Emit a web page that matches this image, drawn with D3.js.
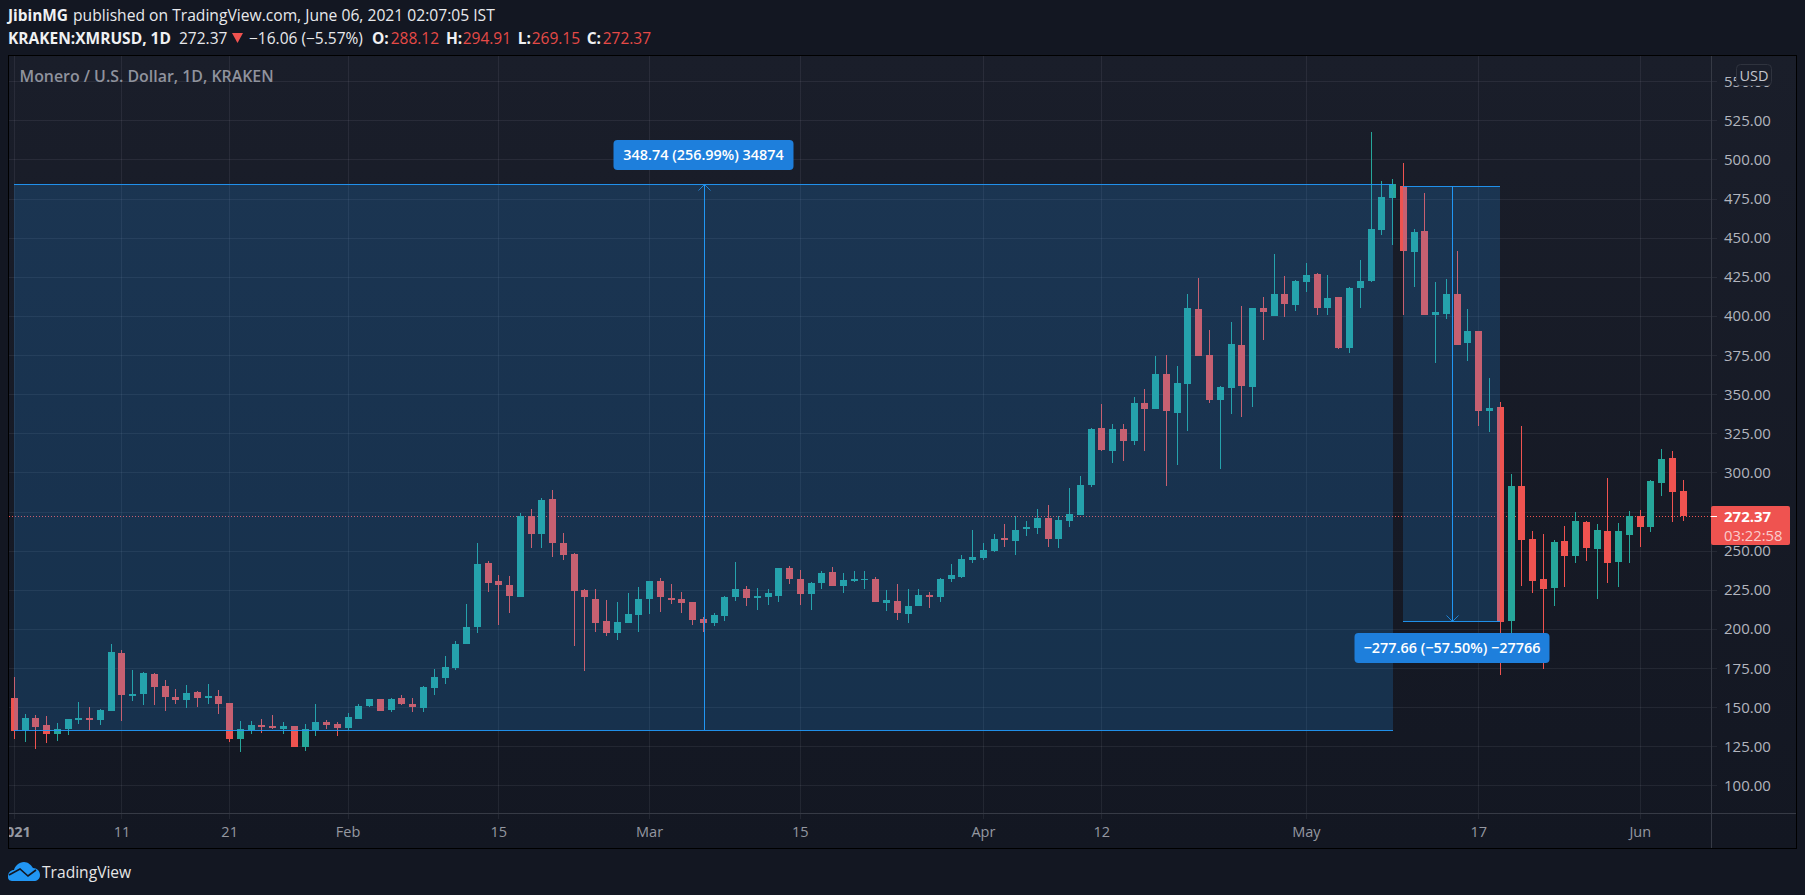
<!DOCTYPE html>
<html><head><meta charset="utf-8">
<script src="https://cdn.jsdelivr.net/npm/d3@7"></script>
<style>html,body{margin:0;padding:0;background:#131722;overflow:hidden}svg{display:block}text{font-family:"Open Sans",sans-serif}</style>
</head><body><svg id="c" width="1805" height="895"></svg>
<script>
const opens=[156.1,135.4,143.3,138.8,133.1,136.3,142.0,143.3,142.0,147.8,184.8,157.3,158.6,171.4,163.7,156.7,154.8,159.9,156.1,157.3,152.9,129.9,135.6,138.8,138.2,136.3,138.2,124.8,135.6,140.7,139.5,136.9,142.6,150.9,155.4,148.4,156.1,152.2,149.7,162.5,168.8,175.2,190.6,201.4,242.3,230.8,228.3,220.6,272.4,260.9,283.2,255.1,248.1,225.1,219.3,205.3,197.6,204.0,209.1,219.3,230.8,220.0,219.3,217.4,206.5,204.0,208.5,220.6,225.7,220.0,220.6,221.2,239.1,232.1,222.5,229.5,236.6,227.6,230.8,231.5,232.1,216.8,218.0,209.7,214.8,221.9,220.6,232.1,233.4,244.2,245.5,250.0,258.3,256.4,264.0,264.7,271.1,257.6,269.1,273.0,292.2,328.6,313.9,327.9,320.3,344.6,340.7,363.1,338.2,356.7,404.6,375.2,346.5,354.1,381.6,354.8,405.3,400.2,414.2,407.2,421.9,427.0,405.3,412.3,379.7,418.0,422.5,455.1,475.6,483.2,441.1,454.5,400.8,401.4,414.2,382.9,390.6,339.5,342.0,205.3,291.5,257.7,232.1,226.4,256.4,246.8,268.5,251.3,262.8,243.0,260.2,272.4,265.3,293.5,309.4,288.12];
const closes=[135.0,143.3,137.5,133.1,136.3,142.6,143.3,142.0,148.4,185.5,158.0,158.6,172.0,163.1,156.7,154.8,159.3,156.1,157.3,152.2,129.9,136.3,138.8,137.5,136.9,138.2,124.8,136.3,140.7,138.8,136.9,143.9,150.9,155.4,147.8,155.4,152.2,150.3,163.1,169.5,175.9,190.6,201.4,241.7,229.5,228.3,221.2,272.4,260.9,282.6,255.1,247.4,224.4,220.6,204.0,197.6,204.6,209.8,219.3,230.8,220.6,218.7,216.8,205.9,204.0,209.1,220.6,225.7,220.0,221.2,223.2,239.1,232.1,222.5,229.5,236.0,227.6,231.5,232.1,232.1,217.4,218.7,210.4,214.8,221.9,220.6,232.1,234.6,244.9,246.1,250.6,257.6,257.0,263.4,265.3,271.1,257.6,269.8,273.6,292.2,327.9,314.5,327.9,320.3,344.6,340.7,363.1,339.4,357.3,405.3,374.6,346.5,354.8,382.3,355.4,405.3,402.7,414.2,407.8,422.5,426.4,405.3,411.7,379.7,418.0,422.5,455.7,476.2,484.5,441.7,453.8,400.8,402.7,414.2,381.6,390.6,339.5,341.4,204.6,291.5,257.0,230.8,225.7,255.7,246.8,269.2,251.9,263.4,242.3,262.8,272.4,265.3,294.7,308.8,287.7,272.37];
const highs=[169.5,145.8,145.2,144.6,140.1,142.6,153.5,150.3,149.0,190.6,186.7,174.0,172.7,172.0,167.6,161.8,164.4,160.5,165.0,161.2,152.9,141.4,141.4,142.6,145.2,140.7,138.2,139.5,152.2,142.0,140.7,146.5,152.2,155.4,155.4,156.1,158.0,156.1,163.7,174.6,182.9,192.5,216.1,255.1,243.6,234.7,234.0,274.3,276.8,283.9,289.0,261.5,248.7,225.7,225.7,218.7,217.4,223.2,227.0,230.8,232.7,228.9,223.8,217.4,207.8,210.4,221.2,243.0,227.6,226.4,225.7,239.1,240.4,237.9,230.2,237.2,239.8,236.0,237.2,237.2,233.4,225.1,228.9,225.7,225.7,223.8,232.7,241.7,247.4,263.4,255.1,260.9,267.2,272.4,269.1,276.8,279.4,272.4,290.3,297.9,328.6,343.9,331.1,331.1,348.4,353.5,374.6,375.2,368.2,414.2,424.4,391.2,355.4,396.3,406.5,405.3,412.3,439.8,425.7,423.2,434.0,427.6,426.4,412.3,418.7,435.9,517.7,486.4,487.7,497.9,455.7,478.8,421.9,423.8,441.7,404.6,390.6,360.5,345.2,299.2,329.9,262.8,260.9,257.0,266.0,274.9,269.2,267.3,296.7,267.9,275.6,276.2,295.4,315.2,313.9,294.91];
const lows=[129.9,127.9,123.5,127.3,128.6,132.4,139.5,135.6,138.8,147.8,141.4,154.1,151.6,151.6,147.8,152.2,149.7,150.3,152.2,145.8,128.0,121.6,133.1,133.7,136.3,133.1,124.8,122.2,131.8,136.3,131.8,135.6,142.6,150.3,147.8,147.1,151.6,147.1,147.1,158.0,165.0,174.0,190.6,197.6,223.8,202.7,210.4,220.6,251.9,251.9,246.2,244.2,189.3,173.3,198.2,195.7,193.1,204.0,198.2,209.7,211.0,216.1,210.4,202.7,198.2,202.1,205.3,218.1,214.9,212.3,215.5,217.4,228.9,215.5,212.3,225.7,227.6,223.2,230.2,225.7,217.4,211.7,205.9,204.0,214.8,213.6,217.4,230.2,232.7,242.3,244.2,249.4,252.5,247.4,259.6,260.9,252.5,251.9,265.3,273.0,290.9,313.9,306.2,307.5,317.7,313.9,340.7,291.5,304.9,326.7,374.6,344.5,302.4,337.5,335.6,342.0,384.8,400.2,399.5,403.4,415.5,400.8,400.8,379.1,376.5,405.3,421.9,451.9,445.5,400.8,418.7,400.8,370.1,398.2,381.6,371.4,329.5,326.0,170.8,190,227.6,223.2,174.6,214.9,227.0,242.3,243.6,219.3,229.5,227.0,242.3,252.6,262.1,285.1,268.5,269.15];
const priceGrid=[100,125,150,175,200,225,250,275,300,325,350,375,400,425,450,475,500,525,550];
const priceLabels=[100,125,150,175,200,225,250,300,325,350,375,400,425,450,475,500,525,550];
const timeTickDays=[0,10,20,31,45,59,73,90,101,120,136,151];
const timeTickLabels=["2021","11","21","Feb","15","Mar","15","Apr","12","May","17","Jun"];
const longPosition={fromDay:0,toDay:128,base:135.3,target:484.04,label:"348.74 (256.99%) 34874"};
const shortPosition={fromDay:129,toDay:138,base:483,target:205.3,label:"\u2212277.66 (\u221257.50%) \u221227766"};
const lastPrice=272.37;

const UP="#26a69a",DOWN="#ef5350",BLUE="#2196f3";
const L=9,T=56,R=1711,B=813;
const x=d3.scaleLinear().domain([0,155]).range([14.3,1683.3]);
const y=d3.scaleLinear().domain([125,525]).range([746.3,120.3]);
const svg=d3.select("#c");
const defs=svg.append("defs");
const g0=defs.append("linearGradient").attr("id","bg").attr("x1",0).attr("x2",0).attr("y1",0).attr("y2",1);
g0.append("stop").attr("offset",0).attr("stop-color","#1a1e2a");
g0.append("stop").attr("offset",1).attr("stop-color","#131722");
defs.append("clipPath").attr("id","pane").append("rect").attr("x",L).attr("y",T).attr("width",R-L).attr("height",B-T);
defs.append("clipPath").attr("id","inner").append("rect").attr("x",L).attr("y",T).attr("width",1796-L).attr("height",848-T);

svg.append("rect").attr("width",1805).attr("height",895).attr("fill","#131722");
svg.append("rect").attr("x",8.5).attr("y",55.5).attr("width",1788).attr("height",793).attr("fill","url(#bg)").attr("stroke","#000");

const crisp=s=>s.attr("shape-rendering","crispEdges");
const GRID="rgba(240,243,250,0.07)";
crisp(svg.append("g").selectAll("line").data(priceGrid).join("line")
 .attr("x1",L).attr("x2",1717).attr("y1",d=>Math.round(y(d))+.5).attr("y2",d=>Math.round(y(d))+.5).attr("stroke",GRID));
crisp(svg.append("g").selectAll("line").data(timeTickDays).join("line")
 .attr("x1",d=>Math.floor(x(d))+.5).attr("x2",d=>Math.floor(x(d))+.5).attr("y1",T).attr("y2",819).attr("stroke",GRID));

const pane=svg.append("g").attr("clip-path","url(#pane)");
pane.append("line").attr("x1",L).attr("x2",R).attr("y1",Math.round(y(lastPrice))+.5).attr("y2",Math.round(y(lastPrice))+.5)
 .attr("stroke",DOWN).attr("stroke-dasharray","1 2");
const idx=d3.range(opens.length);
const col=i=>closes[i]>=opens[i]?UP:DOWN;
crisp(pane.append("g").selectAll("rect").data(idx).join("rect")
 .attr("x",i=>Math.floor(x(i))).attr("width",1)
 .attr("y",i=>Math.round(y(highs[i]))).attr("height",i=>Math.max(1,Math.round(y(lows[i]))-Math.round(y(highs[i]))))
 .attr("fill",col));
crisp(pane.append("g").selectAll("rect").data(idx).join("rect")
 .attr("x",i=>Math.floor(x(i))-3).attr("width",7)
 .attr("y",i=>Math.round(y(Math.max(opens[i],closes[i]))))
 .attr("height",i=>Math.max(1,Math.round(y(Math.min(opens[i],closes[i])))-Math.round(y(Math.max(opens[i],closes[i])))))
 .attr("fill",col));
function position(p){
 const x0=Math.round(x(p.fromDay)),x1=Math.round(x(p.toDay));
 const yT=Math.round(y(Math.max(p.base,p.target))),yB=Math.round(y(Math.min(p.base,p.target)));
 const ax=Math.round((x0+x1)/2)+.5;
 crisp(pane.append("rect").attr("x",x0).attr("y",yT).attr("width",x1-x0).attr("height",yB-yT).attr("fill",BLUE).attr("fill-opacity",.2));
 crisp(pane.append("line").attr("x1",x0).attr("x2",x1).attr("y1",yT+.5).attr("y2",yT+.5).attr("stroke",BLUE).attr("stroke-opacity",.95));
 crisp(pane.append("line").attr("x1",x0).attr("x2",x1).attr("y1",yB+.5).attr("y2",yB+.5).attr("stroke",BLUE).attr("stroke-opacity",.95));
 pane.append("line").attr("x1",ax).attr("x2",ax).attr("y1",yT).attr("y2",yB).attr("stroke",BLUE).attr("shape-rendering","crispEdges");
 const ty=y(p.target)<y(p.base)?yT+.5:yB+.5, d=y(p.target)<y(p.base)?1:-1;
 pane.append("path").attr("d",`M${ax-6} ${ty+6*d}L${ax} ${ty}L${ax+6} ${ty+6*d}`).attr("fill","none").attr("stroke",BLUE).attr("stroke-opacity",.8);
 return ax;
}
const ax1=position(longPosition);
const ax2=position(shortPosition);
function badge(cx,top,w,h,t){
 svg.append("rect").attr("x",cx-w/2).attr("y",top).attr("width",w).attr("height",h).attr("rx",4).attr("fill","#1e7fdc");
 svg.append("text").attr("x",cx).attr("y",top+h/2+1).attr("text-anchor","middle").attr("dominant-baseline","middle")
  .attr("fill","#fff").attr("font-size",14.4).attr("font-weight",600).text(t);
}
badge(ax1-1,140,180,30,longPosition.label);
badge(ax2-.5,633,195,30,shortPosition.label);
crisp(svg.append("line").attr("x1",R+.5).attr("x2",R+.5).attr("y1",T).attr("y2",848).attr("stroke","#363a45"));
crisp(svg.append("line").attr("x1",L).attr("x2",1796).attr("y1",B+.5).attr("y2",B+.5).attr("stroke","#363a45"));
const axG=svg.append("g").attr("clip-path","url(#inner)");
axG.selectAll("text.p").data(priceLabels).join("text").attr("class","p")
 .attr("x",1724).attr("y",d=>y(d)-.5).attr("dominant-baseline","central").attr("fill","#b2b5be").attr("font-size",15)
 .text(d=>d3.format(".2f")(d));
axG.selectAll("text.t").data(timeTickDays).join("text").attr("class","t")
 .attr("x",d=>x(d)).attr("y",831).attr("text-anchor","middle").attr("dominant-baseline","central")
 .attr("fill","#9598a1").attr("font-size",14.5).attr("font-weight",(d,i)=>i==0?700:400)
 .text((d,i)=>timeTickLabels[i]);
svg.append("rect").attr("x",1736.5).attr("y",64.5).attr("width",35).attr("height",21).attr("rx",4).attr("fill","#1a1e2a").attr("stroke","#2f333e");
svg.append("text").attr("x",1754).attr("y",75.5).attr("text-anchor","middle").attr("dominant-baseline","central").attr("fill","#c3c5cc").attr("font-size",14.5).text("USD");
const ly=Math.round(y(lastPrice));
svg.append("rect").attr("x",R).attr("y",506).attr("width",79).attr("height",39).attr("rx",2).attr("fill",DOWN);
crisp(svg.append("line").attr("x1",R).attr("x2",1717).attr("y1",ly+.5).attr("y2",ly+.5).attr("stroke","#fff"));
svg.append("text").attr("x",1724).attr("y",516).attr("dominant-baseline","central").attr("fill","#fff").attr("font-size",15).attr("font-weight",700).text(d3.format(".2f")(lastPrice));
svg.append("text").attr("x",1724).attr("y",535).attr("dominant-baseline","central").attr("fill","#fff").attr("fill-opacity",.72).attr("font-size",14.8).text("03:22:58");
const tx=(t,xp,yp,fill,size,weight)=>svg.append("text").attr("x",xp).attr("y",yp).attr("fill",fill).attr("font-size",size).attr("font-weight",weight||400).text(t);
svg.append("text").attr("x",19.5).attr("y",82).attr("fill","#8f929d").attr("font-size",15.9).attr("font-weight",600).text("Monero / U.S. Dollar, 1D, KRAKEN");
const W="#e8e9ec",RD="#e64a47",Bd="#f0f1f3";
tx("JibinMG",8,21,Bd,15.4,700);
tx("published on TradingView.com, June 06, 2021 02:07:05 IST",73,21,W,15.65);
tx("KRAKEN:XMRUSD, 1D",8,44,Bd,15.5,700);
tx("272.37",179,44,W,15.5);
svg.append("path").attr("d","M232 33H243L237.5 43Z").attr("fill",DOWN);
tx("\u221216.06 (\u22125.57%)",249,44,W,15.5);
tx("O:",372,44,Bd,15.5,700);tx("288.12",390.7,44,RD,15.5);
tx("H:",446,44,Bd,15.5,700);tx("294.91",462.7,44,RD,15.5);
tx("L:",517.7,44,Bd,15.5,700);tx("269.15",531.7,44,RD,15.5);
tx("C:",586.7,44,Bd,15.5,700);tx("272.37",602.7,44,RD,15.5);
const lg=svg.append("g");
lg.append("path").attr("d","M8 877C8 872 11 870 14 870C15 866 19 862 24 862C28 862 31 865 33 868C37 868 40 871 40 875C40 879 37 881 34 881H13C10 881 8 880 8 877Z").attr("fill",BLUE);
lg.append("path").attr("d","M9 875L20 869L28 876L36 870").attr("fill","none").attr("stroke","#131722").attr("stroke-width",1.6);
tx("TradingView",42,877.5,"#e6e6e6",15.6);
</script></body></html>
